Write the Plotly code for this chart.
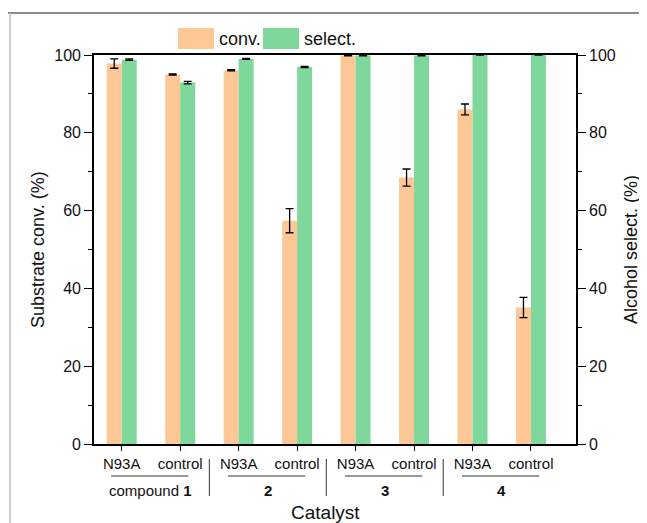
import plotly.graph_objects as go

catalysts = ["N93A", "control", "N93A", "control", "N93A", "control", "N93A", "control"]
compounds = ["compound <b>1</b>", "<b>2</b>", "<b>3</b>", "<b>4</b>"]
conv = [97.8, 95.0, 96.1, 57.4, 99.9, 68.5, 86.0, 35.1]
conv_err = [1.2, 0.15, 0.15, 3.1, 0.15, 2.2, 1.4, 2.6]
select = [98.8, 92.9, 99.0, 96.9, 99.9, 99.9, 100.0, 100.0]
select_err = [0.2, 0.3, 0.15, 0.15, 0.15, 0.15, 0.0, 0.0]
y_ticks = [0, 20, 40, 60, 80, 100]

ORANGE = "#FEC896"
GREEN = "#7FD89B"
FONT = "Liberation Sans, Arial, sans-serif"

x = list(range(len(catalysts)))

fig = go.Figure()
fig.add_trace(go.Bar(
    x=x, y=conv, name="conv.", marker=dict(color=ORANGE, line=dict(width=0)),
    error_y=dict(type="data", array=conv_err, color="black", thickness=1.3, width=4),
    offsetgroup="a",
))
fig.add_trace(go.Bar(
    x=x, y=select, name="select.", marker=dict(color=GREEN, line=dict(width=0)),
    error_y=dict(type="data", array=select_err, color="black", thickness=1.3, width=4),
    offsetgroup="b",
))
# invisible trace to activate right axis
fig.add_trace(go.Scatter(x=[0], y=[0], yaxis="y2", mode="markers",
                         marker=dict(opacity=0), showlegend=False, hoverinfo="skip"))

# page has an 8px body margin; work in page pixel coordinates
OFF = 8
W, H = 647 - OFF, 523 - OFF
PL, PR, PT, PB = 94, 576, 55, 444   # plot area in page pixels
L = PL - OFF
R = W - (PR - OFF)
T = PT - OFF
B = H - (PB - OFF)
pw, ph = PR - PL, PB - PT

def px_x(p):
    return (p - PL) / pw

def px_y(p):
    return (PB - p) / ph

fig.update_layout(
    width=W, height=H,
    margin=dict(l=L, r=R, t=T, b=B),
    paper_bgcolor="white", plot_bgcolor="white",
    barmode="group", bargap=0.487, bargroupgap=0,
    showlegend=False,
    font=dict(family=FONT, size=15, color="#111"),
    xaxis=dict(
        range=[-0.474, 7.77], tickmode="array", tickvals=x, ticktext=catalysts,
        showline=True, linecolor="black", linewidth=1.6, mirror=True,
        ticks="outside", ticklen=5, tickwidth=1.3, tickcolor="black",
        tickfont=dict(size=15, family=FONT, color="#111"),
        showgrid=False, zeroline=False,
    ),
    yaxis=dict(
        range=[0, 100], tickvals=y_ticks,
        showline=True, linecolor="black", linewidth=1.6,
        ticks="outside", ticklen=8, tickwidth=1.3, tickcolor="black",
        minor=dict(dtick=10, ticks="outside", ticklen=4, tickwidth=1.2, tickcolor="black"),
        tickfont=dict(size=16, family=FONT, color="#111"),
        showgrid=False, zeroline=False,
    ),
    yaxis2=dict(
        range=[0, 100], tickvals=y_ticks, overlaying="y", side="right",
        showline=True, linecolor="black", linewidth=1.6,
        ticks="outside", ticklen=8, tickwidth=1.3, tickcolor="black",
        minor=dict(dtick=10, ticks="outside", ticklen=4, tickwidth=1.2, tickcolor="black"),
        tickfont=dict(size=16, family=FONT, color="#111"),
        showgrid=False, zeroline=False,
    ),
)

annotations = []
shapes = []

def ann(text, xv, yv, size, xref="paper", angle=0, xanchor="center"):
    annotations.append(dict(text=text, xref=xref, yref="paper", x=xv, y=yv,
                            xanchor=xanchor, yanchor="middle", textangle=angle,
                            showarrow=False,
                            font=dict(size=size, family=FONT, color="#111")))

# axis titles
ann("Substrate conv. (%)", px_x(38), px_y(250), 18, angle=-90)
ann("Alcohol select. (%)", px_x(631), px_y(250), 18, angle=-90)
ann("Catalyst", px_x(325), px_y(512), 19)

# group labels, underlines, separators
for i, name in enumerate(compounds):
    c0, c1 = 2 * i, 2 * i + 1
    ann(name, (c0 + c1) / 2, px_y(490), 15, xref="x")
    shapes.append(dict(type="line", xref="x", yref="paper",
                       x0=c0 - 0.18, x1=c1 + 0.14, y0=px_y(476), y1=px_y(476),
                       line=dict(color="#777", width=1.3)))
    if i > 0:
        shapes.append(dict(type="line", xref="x", yref="paper",
                           x0=c0 - 0.5, x1=c0 - 0.5, y0=px_y(459), y1=px_y(496),
                           line=dict(color="#555", width=1.2)))

# legend (swatches + labels)
for sx, label, col in [(178, "conv.", ORANGE), (263, "select.", GREEN)]:
    shapes.append(dict(type="rect", xref="paper", yref="paper",
                       x0=px_x(sx), x1=px_x(sx + 36), y0=px_y(49), y1=px_y(28),
                       fillcolor=col, line=dict(width=0)))
    ann(label, px_x(sx + 39), px_y(39), 18, xanchor="left")

# outer frame lines
shapes.append(dict(type="line", xref="paper", yref="paper",
                   x0=px_x(8), x1=px_x(650), y0=px_y(13), y1=px_y(13),
                   line=dict(color="#666", width=1.5)))
shapes.append(dict(type="line", xref="paper", yref="paper",
                   x0=px_x(10), x1=px_x(10), y0=px_y(13), y1=px_y(530),
                   line=dict(color="#bbb", width=1.5)))

fig.update_layout(annotations=annotations, shapes=shapes)

fig.write_html("out.html")
